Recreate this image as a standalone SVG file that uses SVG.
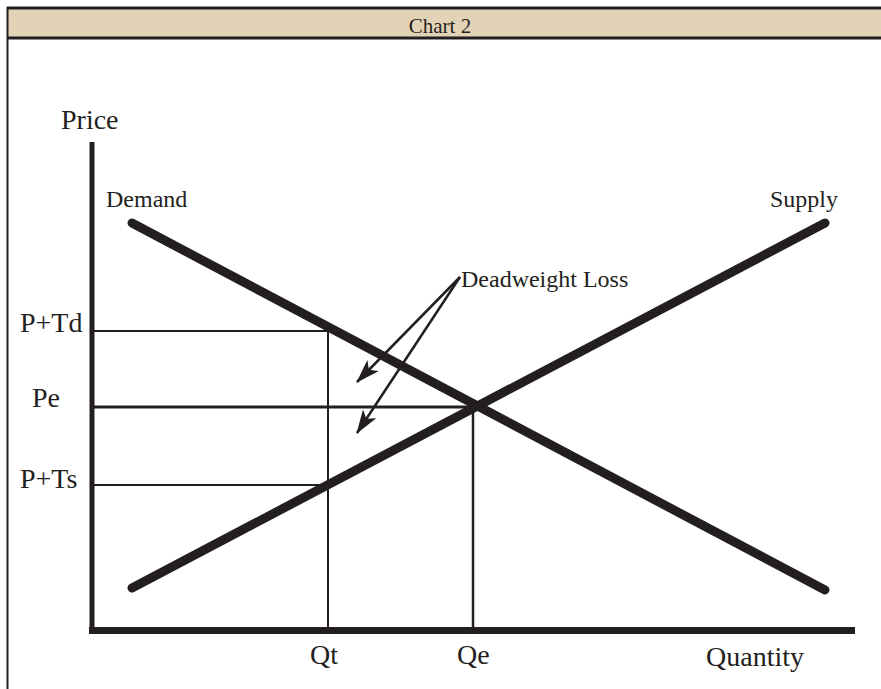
<svg xmlns="http://www.w3.org/2000/svg" width="881" height="689" viewBox="0 0 881 689">
<defs>
<style>
.t{font-family:"Liberation Serif","Times New Roman",serif;fill:#231f20}
.curve{stroke:#231f20;stroke-width:9;stroke-linecap:round;fill:none}
.axis{stroke:#231f20;fill:none}
.guide{stroke:#231f20;stroke-width:2;fill:none}
.arr{stroke:#231f20;stroke-width:2.5;fill:none;marker-end:url(#ah)}
</style>
<marker id="ah" viewBox="0 0 24 16" refX="23" refY="8" markerWidth="24" markerHeight="16" markerUnits="userSpaceOnUse" orient="auto">
<path d="M0,0 L24,8 L0,16 L6,8 Z" fill="#231f20"/>
</marker>
</defs>
<rect width="881" height="689" fill="#ffffff"/>
<g id="header">
<rect x="7" y="8" width="874" height="30" fill="#e3d3b6"/>
<line x1="7" y1="8" x2="881" y2="8" stroke="#231f20" stroke-width="3"/>
<line x1="7" y1="38" x2="881" y2="38" stroke="#231f20" stroke-width="3"/>
<line x1="7.5" y1="7" x2="7.5" y2="689" stroke="#231f20" stroke-width="2"/>
<text class="t" x="440" y="33" font-size="21" text-anchor="middle">Chart 2</text>
</g>
<g id="axes">
<line class="axis" x1="92" y1="142" x2="92" y2="634" stroke-width="5"/>
<line class="axis" x1="89" y1="630.5" x2="855" y2="630.5" stroke-width="7"/>
<text class="t" x="61" y="129" font-size="28">Price</text>
<text class="t" x="706" y="666" font-size="28">Quantity</text>
</g>
<g id="connectors">
<line class="guide" x1="92" y1="331" x2="328" y2="331"/>
<line class="guide" x1="92" y1="485" x2="328" y2="485"/>
<line class="guide" x1="328" y1="331" x2="328" y2="630"/>
<line class="axis" x1="92" y1="407" x2="477" y2="407" stroke-width="3"/>
<line class="axis" x1="473" y1="406" x2="473" y2="630" stroke-width="2.5"/>
<line class="arr" x1="460" y1="277" x2="357" y2="382"/>
<line class="arr" x1="460" y1="277" x2="357" y2="433"/>
</g>
<g id="demand">
<line class="curve" x1="132" y1="223" x2="825" y2="590"/>
<text class="t" x="106" y="207" font-size="24">Demand</text>
</g>
<g id="supply">
<line class="curve" x1="132" y1="588" x2="825" y2="223"/>
<text class="t" x="770" y="207" font-size="24">Supply</text>
</g>
<g id="deadweight-loss">
<text class="t" x="461" y="287" font-size="24">Deadweight Loss</text>
</g>
<g id="labels">
<text class="t" x="20" y="332" font-size="28">P+Td</text>
<text class="t" x="32" y="407" font-size="28">Pe</text>
<text class="t" x="20" y="488" font-size="28">P+Ts</text>
<text class="t" x="310" y="664" font-size="28">Qt</text>
<text class="t" x="457" y="664" font-size="28">Qe</text>
</g>
</svg>
